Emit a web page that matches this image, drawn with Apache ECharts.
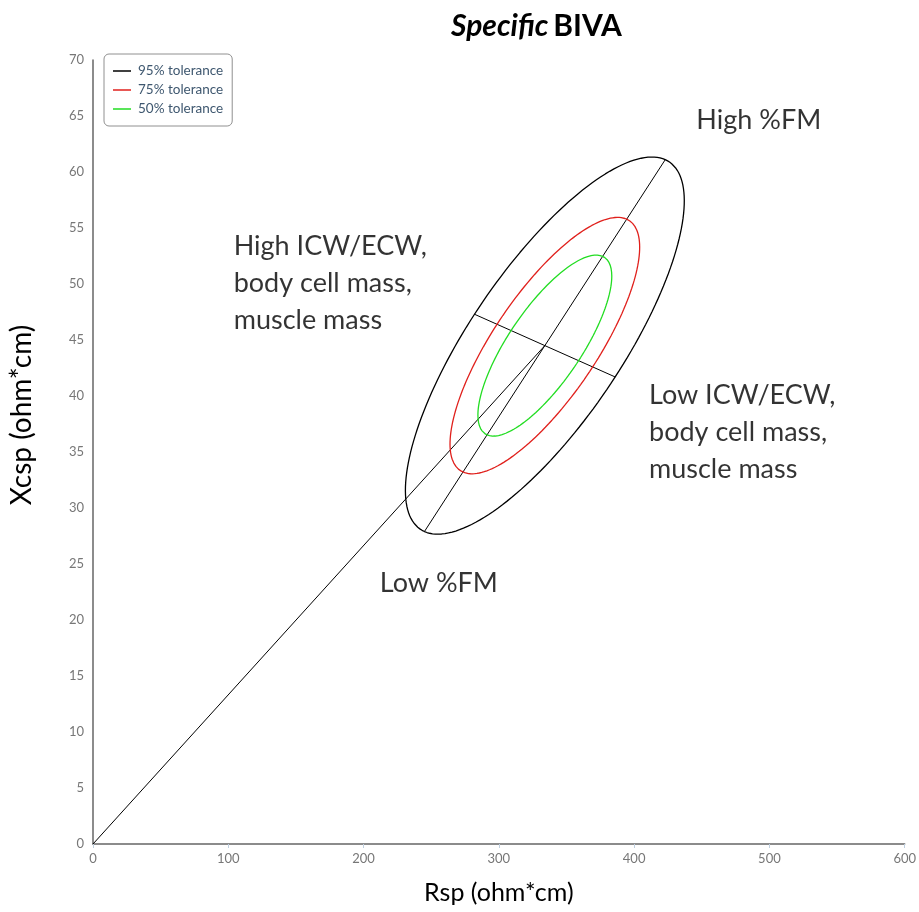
<!DOCTYPE html>
<html>
<head>
<meta charset="utf-8">
<title>Specific BIVA</title>
<script src="https://cdn.jsdelivr.net/npm/echarts@6/dist/echarts.min.js"></script>
<style>
  html, body { margin: 0; padding: 0; background: #fff; }
  #chart { width: 919px; height: 912px; }
</style>
</head>
<body>
<div id="chart"></div>
<script>
// ellipse (data units)
const ellipseCenter = [334, 44.5]
const majorHalf = [89, 16.6]   // half of the long diameter (95%)
const minorHalf = [52, -2.8]   // half of the short diameter (95%)
const toleranceNames = ['95% tolerance', '75% tolerance', '50% tolerance']
const toleranceScale = [1, 0.68, 0.48]
const toleranceColors = ['#000000', '#e0201c', '#22dd22']

// text notes placed in data units [x, y, text]
const notes = [
  [446, 64.6, 'High %FM'],
  [104, 50.1, 'High ICW/ECW,\nbody cell mass,\nmuscle mass'],
  [411, 36.8, 'Low ICW/ECW,\nbody cell mass,\nmuscle mass'],
  [212, 23.3, 'Low %FM']
]

const xTicks = [0, 100, 200, 300, 400, 500, 600]
const yTicks = [0, 5, 10, 15, 20, 25, 30, 35, 40, 45, 50, 55, 60, 65, 70]

const chart = echarts.init(document.getElementById('chart'))

// ellipse outline from center and two conjugate half diameters
const ellipsePoints = (k) => {
  const pts = []
  for (let i = 0; i <= 180; i++) {
    const t = i / 180 * Math.PI * 2
    pts.push([
      ellipseCenter[0] + k * (majorHalf[0] * Math.cos(t) + minorHalf[0] * Math.sin(t)),
      ellipseCenter[1] + k * (majorHalf[1] * Math.cos(t) + minorHalf[1] * Math.sin(t))
    ])
  }
  return pts
}

const thinLine = (name, data) => ({
  name,
  type: 'line',
  data,
  symbol: 'none',
  silent: true,
  lineStyle: { color: '#000', width: 1 },
  z: 3
})

const series = toleranceNames.map((name, i) => ({
  name,
  type: 'line',
  data: ellipsePoints(toleranceScale[i]),
  symbol: 'none',
  color: toleranceColors[i],
  lineStyle: { color: toleranceColors[i], width: 1.3 },
  z: 4
}))

series.push(thinLine('major', [
  [ellipseCenter[0] - majorHalf[0], ellipseCenter[1] - majorHalf[1]],
  [ellipseCenter[0] + majorHalf[0], ellipseCenter[1] + majorHalf[1]]
]))
series.push(thinLine('minor', [
  [ellipseCenter[0] - minorHalf[0], ellipseCenter[1] - minorHalf[1]],
  [ellipseCenter[0] + minorHalf[0], ellipseCenter[1] + minorHalf[1]]
]))
series.push(thinLine('origin', [[0, 0], ellipseCenter]))

// notes as labels on invisible points
series.push({
  name: 'notes',
  type: 'scatter',
  symbolSize: 0,
  silent: true,
  data: notes.map(n => ({ value: [n[0], n[1]], text: n[2] })),
  label: {
    show: true,
    position: 'right',
    distance: 0,
    formatter: p => p.data.text,
    fontFamily: 'Lato',
    fontSize: 27,
    lineHeight: 37,
    color: '#000'
  }
})

const axisLabelStyle = { color: '#777', fontSize: 13, fontFamily: 'Lato' }

const option = {
  animation: false,
  backgroundColor: '#fff',
  title: {
    text: '{i|Specific} {b|BIVA}',
    left: 446,
    top: 6,
    textStyle: {
      rich: {
        i: { fontFamily: 'Lato', fontSize: 30, fontWeight: 'bold', fontStyle: 'italic', color: '#000' },
        b: { fontFamily: 'Lato', fontSize: 30, fontWeight: 'bold', color: '#000' }
      }
    }
  },
  legend: {
    data: toleranceNames,
    orient: 'vertical',
    left: 104,
    top: 54,
    padding: [10, 9, 10, 9],
    itemGap: 5,
    icon: 'rect',
    itemWidth: 18,
    itemHeight: 1.5,
    borderColor: '#909090',
    borderWidth: 1,
    borderRadius: 5,
    backgroundColor: '#fff',
    textStyle: { color: '#3E576F', fontSize: 13.5, fontFamily: 'Lato', padding: [0, 0, 0, 2], height: 15 }
  },
  grid: { left: 93, right: 13, top: 60, bottom: 68 },
  xAxis: {
    type: 'value',
    min: xTicks[0],
    max: xTicks[xTicks.length - 1],
    interval: xTicks[1] - xTicks[0],
    name: 'Rsp (ohm*cm)',
    nameLocation: 'middle',
    nameGap: 36,
    nameTextStyle: { fontFamily: 'Lato', fontSize: 25, color: '#000' },
    axisLine: { lineStyle: { color: '#666', width: 1.5 } },
    axisTick: { show: true, length: 4, lineStyle: { color: '#c0d0e0' } },
    axisLabel: axisLabelStyle,
    splitLine: { show: false }
  },
  yAxis: {
    type: 'value',
    min: yTicks[0],
    max: yTicks[yTicks.length - 1],
    interval: yTicks[1] - yTicks[0],
    axisLine: { show: true, lineStyle: { color: '#666', width: 1.5 } },
    axisTick: { show: false },
    axisLabel: Object.assign({ margin: 9 }, axisLabelStyle),
    splitLine: { show: false }
  },
  graphic: [
    {
      type: 'text',
      x: 22,
      y: 415,
      rotation: Math.PI / 2,
      style: {
        text: 'Xcsp (ohm*cm)',
        fontFamily: 'Lato',
        fontSize: 28,
        fill: '#000',
        align: 'center',
        verticalAlign: 'middle'
      }
    }
  ],
  series
}

chart.setOption(option)
</script>
</body>
</html>
